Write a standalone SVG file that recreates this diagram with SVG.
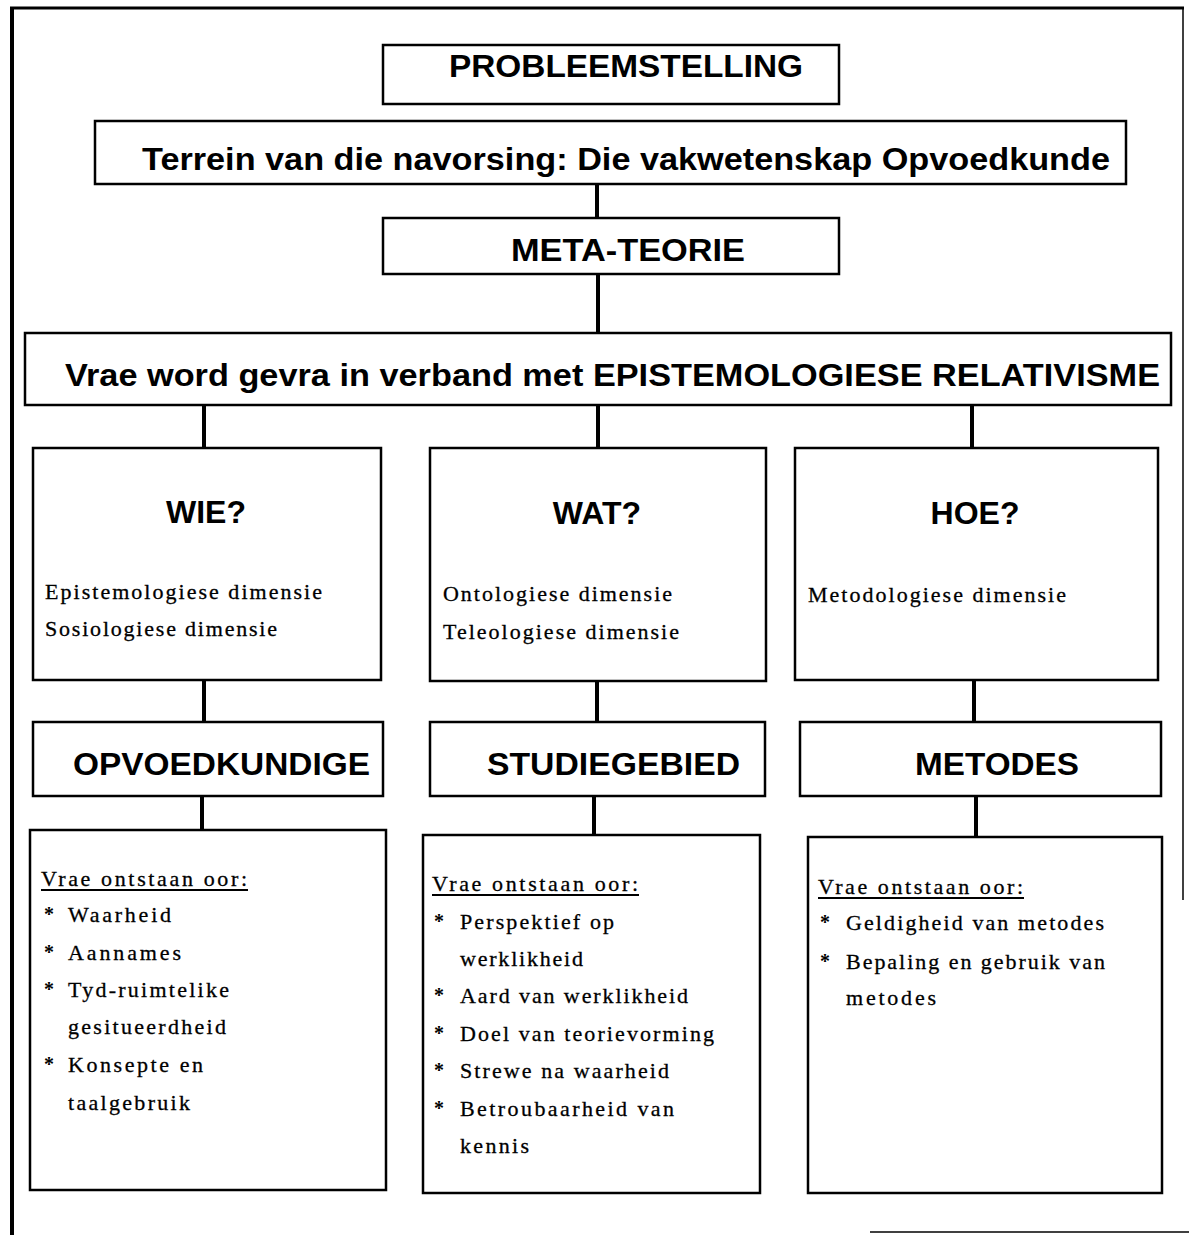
<svg xmlns="http://www.w3.org/2000/svg" width="1189" height="1235" viewBox="0 0 1189 1235">
<style>
.box{fill:#fff;stroke:#000;stroke-width:2.5}
.h{font-family:"Liberation Sans",Arial,sans-serif;font-weight:bold;font-size:32px;fill:#000}
.b{font-family:"Liberation Serif","Times New Roman",serif;font-size:22px;fill:#000;stroke:#000;stroke-width:0.3}
.s{font-family:"Liberation Serif","Times New Roman",serif;font-size:20px;font-weight:bold;fill:#000}
.u{stroke:#000;stroke-width:2}
.c{stroke:#000;stroke-width:4;fill:none}
.f{stroke:#000;fill:none}
</style>
<rect width="1189" height="1235" fill="#fff"/>
<g id="frame">
<line class="f" x1="12" y1="8" x2="12" y2="1235" stroke-width="4"/>
<line class="f" x1="10" y1="8" x2="1184" y2="8" stroke-width="3"/>
<line class="f" x1="1183" y1="8" x2="1183" y2="900" stroke-width="1.5"/>
<line class="f" x1="870" y1="1232" x2="1189" y2="1232" stroke-width="1.5"/>
</g>
<g id="connectors">
<line class="c" x1="597" y1="184" x2="597" y2="218"/>
<line class="c" x1="598" y1="274" x2="598" y2="333"/>
<line class="c" x1="204" y1="405" x2="204" y2="448"/>
<line class="c" x1="598" y1="405" x2="598" y2="448"/>
<line class="c" x1="972" y1="405" x2="972" y2="448"/>
<line class="c" x1="204" y1="680" x2="204" y2="722"/>
<line class="c" x1="597" y1="681" x2="597" y2="722"/>
<line class="c" x1="974" y1="680" x2="974" y2="722"/>
<line class="c" x1="202" y1="796" x2="202" y2="830"/>
<line class="c" x1="594" y1="796" x2="594" y2="835"/>
<line class="c" x1="976" y1="796" x2="976" y2="837"/>
</g>
<g id="probleemstelling">
<rect class="box" x="383" y="45" width="456" height="59"/>
<text class="h" x="449" y="77" textLength="354" lengthAdjust="spacingAndGlyphs">PROBLEEMSTELLING</text>
</g>
<g id="terrein">
<rect class="box" x="95" y="121" width="1031" height="63"/>
<text class="h" x="142" y="170" textLength="968" lengthAdjust="spacingAndGlyphs">Terrein van die navorsing: Die vakwetenskap Opvoedkunde</text>
</g>
<g id="meta-teorie">
<rect class="box" x="383" y="218" width="456" height="56"/>
<text class="h" x="511" y="261" textLength="234" lengthAdjust="spacingAndGlyphs">META-TEORIE</text>
</g>
<g id="vrae-word">
<rect class="box" x="25" y="333" width="1146" height="72"/>
<text class="h" x="65" y="386" textLength="1095" lengthAdjust="spacingAndGlyphs">Vrae word gevra in verband met EPISTEMOLOGIESE RELATIVISME</text>
</g>
<g id="wie">
<rect class="box" x="33" y="448" width="348" height="232"/>
<text class="h" x="206" y="523" text-anchor="middle">WIE?</text>
<text class="b" x="45" y="599" textLength="277">Epistemologiese dimensie</text>
<text class="b" x="45" y="636" textLength="232">Sosiologiese dimensie</text>
</g>
<g id="wat">
<rect class="box" x="430" y="448" width="336" height="233"/>
<text class="h" x="597" y="524" text-anchor="middle">WAT?</text>
<text class="b" x="443" y="601" textLength="229">Ontologiese dimensie</text>
<text class="b" x="443" y="639" textLength="236">Teleologiese dimensie</text>
</g>
<g id="hoe">
<rect class="box" x="795" y="448" width="363" height="232"/>
<text class="h" x="975" y="524" text-anchor="middle">HOE?</text>
<text class="b" x="808" y="602" textLength="258">Metodologiese dimensie</text>
</g>
<g id="opvoedkundige">
<rect class="box" x="33" y="722" width="350" height="74"/>
<text class="h" x="73" y="775" textLength="297" lengthAdjust="spacingAndGlyphs">OPVOEDKUNDIGE</text>
</g>
<g id="studiegebied">
<rect class="box" x="430" y="722" width="335" height="74"/>
<text class="h" x="487" y="775" textLength="253" lengthAdjust="spacingAndGlyphs">STUDIEGEBIED</text>
</g>
<g id="metodes">
<rect class="box" x="800" y="722" width="361" height="74"/>
<text class="h" x="915" y="775" textLength="164" lengthAdjust="spacingAndGlyphs">METODES</text>
</g>
<g id="vrae-1">
<rect class="box" x="30" y="830" width="356" height="360"/>
<text class="b" x="41" y="886" textLength="206">Vrae ontstaan oor:</text>
<line class="u" x1="41" y1="890" x2="248" y2="890"/>
<text class="s" x="44" y="921">*</text><text class="b" x="68" y="922" textLength="103">Waarheid</text>
<text class="s" x="44" y="959">*</text><text class="b" x="68" y="960" textLength="113">Aannames</text>
<text class="s" x="44" y="996">*</text><text class="b" x="68" y="997" textLength="161">Tyd-ruimtelike</text>
<text class="b" x="68" y="1034" textLength="158">gesitueerdheid</text>
<text class="s" x="44" y="1071">*</text><text class="b" x="68" y="1072" textLength="135">Konsepte en</text>
<text class="b" x="68" y="1110" textLength="122">taalgebruik</text>
</g>
<g id="vrae-2">
<rect class="box" x="423" y="835" width="337" height="358"/>
<text class="b" x="432" y="891" textLength="206">Vrae ontstaan oor:</text>
<line class="u" x1="432" y1="895" x2="639" y2="895"/>
<text class="s" x="434" y="928">*</text><text class="b" x="460" y="929" textLength="154">Perspektief op</text>
<text class="b" x="460" y="966" textLength="123">werklikheid</text>
<text class="s" x="434" y="1002">*</text><text class="b" x="460" y="1003" textLength="228">Aard van werklikheid</text>
<text class="s" x="434" y="1040">*</text><text class="b" x="460" y="1041" textLength="254">Doel van teorievorming</text>
<text class="s" x="434" y="1077">*</text><text class="b" x="460" y="1078" textLength="209">Strewe na waarheid</text>
<text class="s" x="434" y="1115">*</text><text class="b" x="460" y="1116" textLength="214">Betroubaarheid van</text>
<text class="b" x="460" y="1153" textLength="69">kennis</text>
</g>
<g id="vrae-3">
<rect class="box" x="808" y="837" width="354" height="356"/>
<text class="b" x="818" y="894" textLength="205">Vrae ontstaan oor:</text>
<line class="u" x1="818" y1="898" x2="1024" y2="898"/>
<text class="s" x="820" y="929">*</text><text class="b" x="846" y="930" textLength="258">Geldigheid van metodes</text>
<text class="s" x="820" y="968">*</text><text class="b" x="846" y="969" textLength="259">Bepaling en gebruik van</text>
<text class="b" x="846" y="1005" textLength="90">metodes</text>
</g>
</svg>
